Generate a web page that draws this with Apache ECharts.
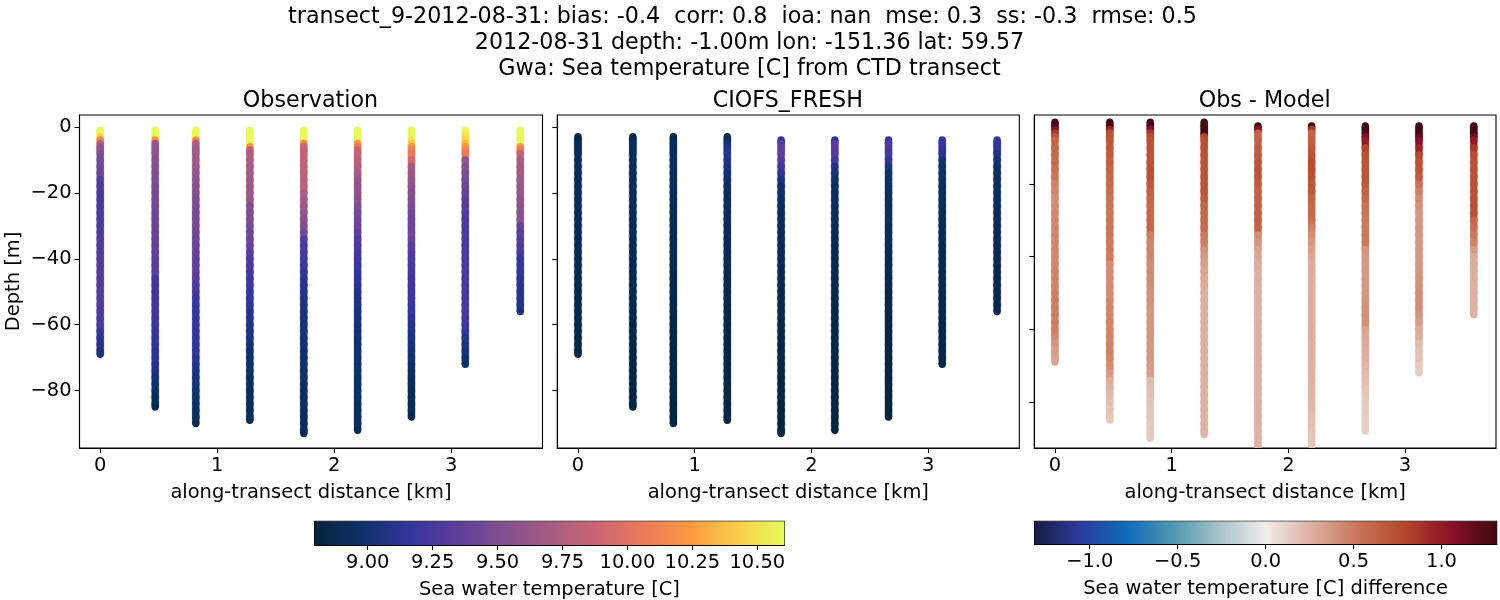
<!DOCTYPE html>
<html><head><meta charset="utf-8">
<style>html,body{margin:0;background:#fff}#c{width:1500px;height:600px}</style>
<script src="https://cdn.jsdelivr.net/npm/echarts@6/dist/echarts.min.js"></script></head>
<body><div id="c"></div>
<script>
const distances=[0,0.47,0.817,1.279,1.74,2.2,2.66,3.12,3.59];
const bottoms=[69,85,90,89,93,92,88,72,56];
const obsStarts=[1,1,1,1,1,1,1,1,1];
const modelStarts=[3,3,3,3,4,4,4,4,4];
const levels=[1,2,3,4,5,6,7,8,10,12,14,16,18,20,22,24,26,28,30,32,34,36,38,40,42,44,46,48,50,52,54,56,58,60,62,64,66,68,70,72,74,76,78,80,82,84,86,88,90,92];
const obsTemp=[
[10.6,10.6,10.45,10.15,9.8,9.62,9.58,9.52, 9.46,9.44,9.42,9.3,9.28, 9.26,9.26,9.25,9.25,9.26, 9.27,9.27,9.28,9.28,9.29, 9.3,9.3,9.3,9.3,9.3, 9.3,9.29,9.28,9.27,9.26, 9.25,9.14,9.12,9.09,9.05, 9.02],
[10.6,10.6,10.6,10.2,9.64,9.62,9.6,9.58, 9.56,9.54,9.52,9.5,9.48, 9.46,9.45,9.44,9.43,9.42, 9.42,9.41,9.4,9.38,9.36, 9.35,9.34,9.33,9.22,9.21, 9.21,9.22,9.22,9.22,9.2, 9.17,9.15,9.14,9.14,9.13, 9.12,9.08,9.05,9.02,8.99, 8.95,8.92,8.9, 8.87],
[10.6,10.6,10.6,10.15,9.75,9.72,9.7,9.68, 9.66,9.64,9.6,9.58,9.55, 9.53,9.5,9.48,9.47,9.46, 9.46,9.44,9.42,9.4,9.38, 9.37,9.36,9.35,9.33,9.28, 9.24,9.2,9.18,9.18,9.17, 9.17,9.16,9.16,9.15,9.14, 9.12,9.1,9.07,9.04,9.02, 9.0,8.98,8.96,8.94,8.92, 8.89],
[10.6,10.6,10.6,10.6,10.6,10.2,9.8,9.74, 9.72,9.7,9.68,9.67,9.66, 9.64,9.62,9.54,9.52,9.5, 9.47,9.44,9.42,9.38,9.33, 9.28,9.25,9.23,9.21,9.2, 9.18,9.15,9.13,9.11,9.09, 9.07,9.05,9.03,9.0,8.99, 8.98,8.97,8.96,8.95,8.95, 8.94,8.94,8.93,8.93,8.92, 8.9],
[10.6,10.6,10.6,10.6,10.15,9.85,9.84,9.83, 9.82,9.82,9.82,9.8,9.78, 9.72,9.68,9.64,9.6,9.56, 9.52,9.46,9.3,9.28,9.25, 9.22,9.18,9.14,9.12,9.1, 9.08,9.06,9.05,9.04,9.03, 9.02,9.01,9.0,9.0,8.99, 8.98,8.98,8.97,8.97,8.96, 8.96,8.95,8.95,8.94,8.94, 8.93,8.91, 8.88],
[10.6,10.6,10.6,10.6,10.2,10.05,9.85,9.83, 9.8,9.76,9.68,9.62,9.6, 9.58,9.56,9.52,9.48,9.44, 9.42,9.36,9.3,9.27,9.24, 9.21,9.18,9.16,9.13,9.11, 9.09,9.07,9.05,9.04,9.03, 9.02,9.01,9.0,8.99,8.98, 8.98,8.97,8.97,8.96,8.96, 8.95,8.95,8.94,8.94,8.93, 8.92, 8.89],
[10.6,10.6,10.6,10.5,10.4,10.2,10.1,10.05, 9.9,9.7,9.65,9.6,9.58, 9.55,9.52,9.5,9.45,9.42, 9.42,9.42,9.4,9.33,9.3, 9.28,9.26,9.24,9.22,9.2, 9.2,9.19,9.18,9.17,9.12, 9.1,9.08,9.06,9.04,9.02, 9.0,8.97,8.93,8.92,8.91, 8.9,8.9,8.89,8.89, 8.87],
[10.6,10.55,10.5,10.45,10.35,10.25,10.15,10.05, 9.6,9.55,9.5,9.46,9.42, 9.38,9.34,9.32,9.3,9.28, 9.27,9.27,9.26,9.26,9.26, 9.26,9.26,9.26,9.26,9.25, 9.25,9.25,9.25,9.24,9.23, 9.2,9.16,9.1,9.06,9.02, 8.98, 8.95],
[10.6,10.6,10.6,10.6,10.6,10.2,10.05,9.85, 9.72,9.7,9.68,9.66,9.64, 9.62,9.6,9.58,9.56,9.55, 9.38,9.36,9.32,9.28,9.25, 9.16,9.15,9.14,9.12,9.11, 9.1,9.09,9.07, 9.04]
];
const modelTemp=[
[8.83,8.86,8.88,8.89,8.89,8.89, 8.9,8.9,8.9,8.9,8.9, 8.9,8.9,8.9,8.9,8.9, 8.89,8.89,8.89,8.88,8.88, 8.88,8.88,8.87,8.87,8.87, 8.87,8.86,8.86,8.86,8.86, 8.85,8.85,8.85,8.85,8.84, 8.84],
[8.83,8.87,8.9,8.91,8.91,8.91, 8.91,8.91,8.91,8.91,8.91, 8.91,8.91,8.9,8.9,8.9, 8.9,8.9,8.89,8.89,8.89, 8.88,8.88,8.88,8.87,8.87, 8.87,8.87,8.86,8.86,8.86, 8.85,8.85,8.85,8.85,8.84, 8.84,8.84,8.84,8.83,8.83, 8.83,8.83,8.83, 8.82],
[8.83,8.88,8.92,8.93,8.93,8.93, 8.93,8.93,8.92,8.92,8.92, 8.92,8.92,8.91,8.91,8.91, 8.9,8.9,8.89,8.89,8.89, 8.88,8.88,8.88,8.87,8.87, 8.87,8.86,8.86,8.86,8.85, 8.85,8.85,8.85,8.84,8.84, 8.84,8.84,8.83,8.83,8.83, 8.83,8.83,8.82,8.82,8.82, 8.82],
[8.85,8.9,9.0,9.08,9.1,9.1, 9.08,9.05,9.0,8.96,8.94, 8.93,8.92,8.92,8.91,8.91, 8.9,8.9,8.89,8.89,8.88, 8.88,8.88,8.87,8.87,8.87, 8.86,8.86,8.86,8.85,8.85, 8.85,8.84,8.84,8.84,8.84, 8.83,8.83,8.83,8.83,8.83, 8.82,8.82,8.82,8.82,8.82, 8.82],
[9.15,9.32,9.35,9.35,9.35, 9.3,9.22,9.12,9.03,8.98, 8.95,8.94,8.93,8.93,8.92, 8.92,8.91,8.91,8.9,8.9, 8.89,8.89,8.88,8.88,8.87, 8.87,8.87,8.86,8.86,8.86, 8.85,8.85,8.85,8.84,8.84, 8.84,8.84,8.83,8.83,8.83, 8.83,8.83,8.82,8.82,8.82, 8.82,8.82, 8.81],
[9.1,9.32,9.33,9.33,9.32, 9.22,9.08,9.02,8.98,8.96, 8.94,8.93,8.93,8.92,8.92, 8.91,8.91,8.9,8.9,8.89, 8.89,8.88,8.88,8.87,8.87, 8.87,8.86,8.86,8.86,8.85, 8.85,8.85,8.84,8.84,8.84, 8.84,8.83,8.83,8.83,8.83, 8.83,8.82,8.82,8.82,8.82, 8.82, 8.81],
[9.15,9.25,9.26,9.25,9.22, 9.16,9.05,9.0,8.97,8.95, 8.94,8.93,8.93,8.92,8.92, 8.91,8.91,8.9,8.9,8.89, 8.89,8.88,8.88,8.87,8.87, 8.86,8.86,8.86,8.85,8.85, 8.85,8.84,8.84,8.84,8.84, 8.83,8.83,8.83,8.83,8.83, 8.82,8.82,8.82,8.82, 8.82],
[9.15,9.17,9.17,9.15,9.1, 9.02,8.98,8.96,8.94,8.93, 8.93,8.92,8.92,8.91,8.91, 8.9,8.9,8.9,8.89,8.89, 8.88,8.88,8.88,8.87,8.87, 8.87,8.86,8.86,8.86,8.85, 8.85,8.85,8.85,8.84,8.84, 8.84, 8.83],
[9.15,9.16,9.16,9.14,9.08, 9.0,8.96,8.95,8.94,8.93, 8.93,8.92,8.92,8.91,8.91, 8.9,8.9,8.9,8.89,8.89, 8.89,8.88,8.88,8.88,8.87, 8.87,8.87,8.86, 8.85]
];
const diffTemp=[
[1.3,1.3,1.05,0.85,0.7,0.62, 0.6,0.6,0.58,0.55,0.52, 0.46,0.44,0.42,0.42,0.43, 0.44,0.44,0.45,0.45,0.45, 0.45,0.45,0.46,0.46,0.46, 0.47,0.48,0.48,0.49,0.49, 0.47,0.43,0.38,0.35,0.33, 0.31],
[1.3,1.3,0.95,0.72,0.71,0.7, 0.68,0.66,0.64,0.62,0.6, 0.58,0.56,0.54,0.53,0.52, 0.52,0.51,0.51,0.5,0.5, 0.5,0.41,0.41,0.41,0.42, 0.42,0.43,0.44,0.44,0.45, 0.45,0.46,0.46,0.46,0.44, 0.42,0.35,0.28,0.24,0.21, 0.2,0.18,0.17, 0.16],
[1.3,1.3,1.05,0.85,0.75,0.72, 0.72,0.72,0.73,0.74,0.72, 0.68,0.64,0.62,0.6,0.6, 0.6,0.6,0.47,0.46,0.45, 0.44,0.42,0.42,0.41,0.4, 0.4,0.39,0.38,0.37,0.37, 0.37,0.37,0.36,0.36,0.36, 0.35,0.34,0.22,0.2,0.19, 0.18,0.17,0.17,0.16,0.16, 0.15],
[1.3,1.3,1.3,1.3,0.8,0.75, 0.73,0.72,0.72,0.72,0.72, 0.72,0.72,0.66,0.6,0.58, 0.58,0.58,0.5,0.48,0.4, 0.36,0.33,0.31,0.29,0.28, 0.27,0.27,0.26,0.26,0.26, 0.26,0.26,0.26,0.26,0.26, 0.26,0.26,0.26,0.25,0.25, 0.25,0.25,0.25,0.25,0.25, 0.24],
[1.3,1.05,0.62,0.6,0.62, 0.66,0.68,0.7,0.72,0.7, 0.66,0.64,0.64,0.64,0.64, 0.64,0.62,0.42,0.38,0.32, 0.3,0.28,0.27,0.27,0.26, 0.26,0.26,0.26,0.26,0.26, 0.26,0.26,0.26,0.26,0.26, 0.26,0.26,0.26,0.26,0.26, 0.26,0.26,0.26,0.26,0.25, 0.25,0.25, 0.24],
[1.3,0.85,0.62,0.62,0.64, 0.68,0.72,0.76,0.74,0.72, 0.7,0.68,0.62,0.6,0.58, 0.54,0.46,0.4,0.36,0.33, 0.3,0.28,0.28,0.27,0.27, 0.27,0.27,0.27,0.27,0.27, 0.27,0.27,0.26,0.26,0.26, 0.25,0.25,0.25,0.24,0.24, 0.23,0.22,0.2,0.19,0.18, 0.17, 0.16],
[1.3,1.3,1.25,1.1,1.0, 0.8,0.72,0.7,0.7,0.7, 0.68,0.62,0.58,0.54,0.52, 0.5,0.5,0.5,0.5,0.38, 0.36,0.36,0.36,0.36,0.36, 0.37,0.38,0.4,0.4,0.4, 0.32,0.3,0.28,0.27,0.26, 0.24,0.22,0.2,0.18,0.16, 0.15,0.14,0.14,0.13, 0.13],
[1.3,1.3,1.3,1.2,1.05, 0.95,0.78,0.72,0.7,0.66, 0.55,0.48,0.42,0.4,0.38, 0.38,0.38,0.38,0.38,0.38, 0.38,0.38,0.38,0.39,0.4, 0.42,0.42,0.42,0.38,0.34, 0.3,0.27,0.2,0.19,0.18, 0.16, 0.15],
[1.3,1.3,1.3,1.15,1.0, 0.85,0.75,0.72,0.72,0.72, 0.72,0.72,0.72,0.72,0.72, 0.6,0.55,0.5,0.46,0.35, 0.28,0.28,0.27,0.27,0.26, 0.26,0.26,0.26, 0.25]
];
const thermalColors=['#04233a','#0e3168','#33359c','#5b3e9a','#7f5090','#a55c82','#cb6673','#ec7a5a','#fb9a40','#f8cf4a','#e8fa5b'];
const balanceColors=['#181c43','#2a3c9f','#0e6cb8','#4f97b0','#a8c3c8','#f1ecea','#dcb0a0','#c87558','#b4472b','#8a1028','#3c0912'];
const depthTicks=[0,-20,-40,-60,-80];
const diffDepthTicks=[-20,-40,-60,-80];
const distanceTicks=[0,1,2,3];
const tempTicks=[9,9.25,9.5,9.75,10,10.25,10.5];
const diffTicks=[-1,-0.5,0,0.5,1];
const panelTitles=['Observation','CIOFS_FRESH','Obs - Model'];
const supTitles=['transect_9-2012-08-31: bias: -0.4  corr: 0.8  ioa: nan  mse: 0.3  ss: -0.3  rmse: 0.5','2012-08-31 depth: -1.00m lon: -151.36 lat: 59.57','Gwa: Sea temperature [C] from CTD transect'];

const FONT='"DejaVu Sans"', TS=19.44, HS=22.22, NGX=35;
const minus=s=>String(s).replace('-','\u2212');
function points(vals,starts){
  const out=[];
  vals.forEach((col,i)=>{
    const ds=levels.filter(d=>d>=starts[i]&&d<bottoms[i]).concat(bottoms[i]);
    if(ds.length!==col.length)console.warn('len',i,ds.length,col.length);
    col.forEach((v,k)=>out.push([distances[i],-ds[k],v,k+1<col.length?-ds[k+1]:-ds[k]]));
  });
  return out;
}
const panels=[
 {left:79.5,right:542.5,ymin:-97.4,ymax:3.6,ticks:depthTicks,labels:true,vals:obsTemp,st:obsStarts},
 {left:557.3,right:1019.3,ymin:-97.4,ymax:3.6,ticks:depthTicks,labels:false,vals:modelTemp,st:modelStarts},
 {left:1034.3,right:1496,ymin:-92.7,ymax:-1,ticks:diffDepthTicks,labels:false,vals:diffTemp,st:modelStarts}
];
const line={lineStyle:{color:'#000',width:1.1}};
const grid=[],xAxis=[],yAxis=[],series=[],title=[];
const vmThermal={show:false,seriesIndex:[0,1,5,6],dimension:2,min:8.795,max:10.604,inRange:{color:thermalColors}};
const vmBalance={show:false,seriesIndex:[2,7],dimension:2,min:-1.314,max:1.314,inRange:{color:balanceColors}};
panels.forEach((p,i)=>{
  grid.push({left:p.left,top:115,width:p.right-p.left,height:333,show:true,borderColor:'#000',borderWidth:1.1,backgroundColor:'#fff'});
  xAxis.push({type:'value',gridIndex:i,min:-0.177,max:3.78,z:5,
    name:'along-transect distance [km]',nameLocation:'middle',nameGap:NGX,
    nameTextStyle:{fontFamily:FONT,fontSize:TS,color:'#000'},
    splitLine:{show:false},axisLine:{show:true,onZero:false,...line},
    axisTick:{show:true,length:5,customValues:distanceTicks,...line},
    axisLabel:{fontFamily:FONT,fontSize:TS,color:'#000',margin:8,customValues:distanceTicks,formatter:v=>String(v)}});
  yAxis.push({type:'value',gridIndex:i,min:p.ymin,max:p.ymax,z:5,
    name:p.labels?'Depth [m]':'',nameLocation:'middle',nameGap:56,
    nameTextStyle:{fontFamily:FONT,fontSize:TS,color:'#000'},
    splitLine:{show:false},axisLine:{show:true,onZero:false,...line},
    axisTick:{show:true,length:5,customValues:p.ticks,...line},
    axisLabel:{show:p.labels,fontFamily:FONT,fontSize:TS,color:'#000',margin:8,customValues:p.ticks,formatter:v=>minus(v)}});
  series.push({type:'scatter',xAxisIndex:i,yAxisIndex:i,symbol:'circle',symbolSize:7.4,
    data:points(p.vals,p.st),encode:{x:0,y:1},clip:true,silent:true,animation:false,itemStyle:{opacity:1,borderWidth:0},z:3});
  title.push({text:panelTitles[i],left:(p.left+p.right)/2-5.5,top:85,textAlign:'center',textStyle:{fontFamily:FONT,fontSize:HS,fontWeight:'normal',color:'#000'}});
});
supTitles.forEach((t,i)=>title.push({text:t,left:i==0?737.5:744.5,top:[1,27,53.5][i],textAlign:'center',textStyle:{fontFamily:FONT,fontSize:HS,fontWeight:'normal',color:'#000'}}));

function colorbar(idx,left,right,min,max,ticks,fmt,label,colors,h){
  grid.push({left,top:521.3,width:right-left,height:h,show:true,borderColor:'#000',borderWidth:1.1,backgroundColor:'transparent'});
  xAxis.push({type:'value',gridIndex:idx,min,max,z:5,name:label,nameLocation:'middle',nameGap:NGX,
    nameTextStyle:{fontFamily:FONT,fontSize:TS,color:'#000'},splitLine:{show:false},
    axisLine:{show:true,onZero:false,...line},axisTick:{show:true,length:5,customValues:ticks,...line},
    axisLabel:{fontFamily:FONT,fontSize:TS,color:'#000',margin:8,customValues:ticks,hideOverlap:false,formatter:fmt}});
  yAxis.push({type:'value',gridIndex:idx,min:0,max:1,show:false});
  const stops=colors.map((c,k)=>({offset:k/(colors.length-1),color:c}));
  series.push({type:'custom',xAxisIndex:idx,yAxisIndex:idx,silent:true,animation:false,clip:true,data:[[min,max]],encode:{x:[0,1]},
    renderItem:(params,api)=>{
      const a=api.coord([api.value(0),1]),b=api.coord([api.value(1),0]);
      return {type:'rect',shape:{x:a[0],y:a[1],width:b[0]-a[0],height:b[1]-a[1]},
        style:{fill:new echarts.graphic.LinearGradient(0,0,1,0,stops)}};
    }});
}
colorbar(3,314.5,784.3,8.795,10.604,tempTicks,v=>v.toFixed(2),'Sea water temperature [C]',thermalColors,23.7);
colorbar(4,1034.5,1496.7,-1.314,1.314,diffTicks,v=>minus(v.toFixed(1)),'Sea water temperature [C] difference',balanceColors,23);

// continuous column body between successive samples, under the sample dots
panels.forEach((p,i)=>{
  series.push({type:'custom',xAxisIndex:i,yAxisIndex:i,silent:true,animation:false,clip:true,z:2,
    data:series[i].data,encode:{x:0,y:[1,3]},
    renderItem:(params,api)=>{
      const a=api.coord([api.value(0),api.value(1)]),b=api.coord([api.value(0),api.value(3)]);
      const color=api.visual('color'),h=b[1]-a[1];
      return {type:'group',children:[
        {type:'rect',shape:{x:a[0]-4.5,y:a[1],width:9,height:h},style:{fill:color,opacity:0.15}},
        {type:'rect',shape:{x:a[0]-3.6,y:a[1],width:7.2,height:h},style:{fill:color}}
      ]};
    }});
});

const chart=echarts.init(document.getElementById('c'),null,{renderer:'canvas',width:1500,height:600});
chart.setOption({animation:false,backgroundColor:'#fff',title,grid,xAxis,yAxis,visualMap:[vmThermal,vmBalance],series});
</script></body></html>
